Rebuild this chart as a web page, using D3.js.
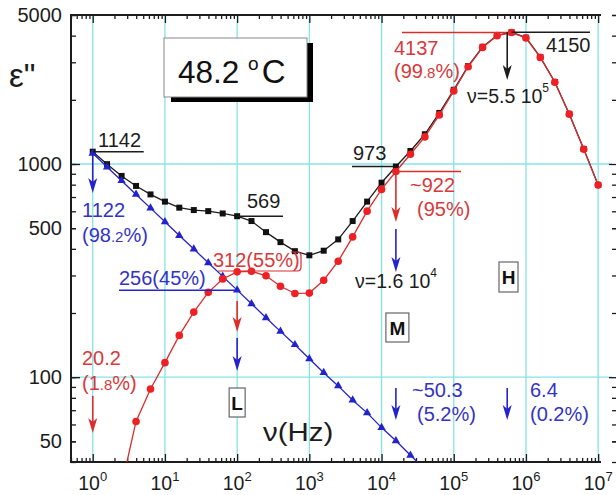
<!DOCTYPE html>
<html>
<head>
<meta charset="utf-8">
<script src="https://cdn.jsdelivr.net/npm/d3@7"></script>
<style>
  html, body { margin: 0; padding: 0; background: #fff; }
  svg { display: block; font-family: "Liberation Sans", Arial, Helvetica, sans-serif; }
</style>
</head>
<body>
<svg id="chart" width="616" height="495"></svg>
<script>
// Measurement frequencies (Hz), five points per decade
const freq = [1, 1.58, 2.51, 3.98, 6.31, 10, 15.8, 25.1, 39.8, 63.1,
              100, 158, 251, 398, 631, 1000, 1580, 2510, 3980, 6310,
              1e4, 1.58e4, 2.51e4, 3.98e4, 6.31e4, 1e5, 1.58e5, 2.51e5, 3.98e5, 6.31e5,
              1e6, 1.58e6, 2.51e6, 3.98e6, 6.31e6, 1e7];

// Measured loss spectrum ε'' (black squares)
const epsTotal = [1142, 998, 879, 789, 720, 666, 624, 608, 601, 586,
                  569, 540, 479, 430, 390, 373, 392, 443, 540, 666,
                  817, 973, 1151, 1379, 1735, 2230, 2880, 3545, 4015, 4150,
                  3915, 3170, 2425, 1718, 1177, 798];

// Low-frequency (L) contribution (blue triangles), from 1 Hz upward
const epsLow = [1122, 968, 835, 720, 621, 536, 462, 399, 344, 297,
                256, 221, 190, 164, 142, 122, 105, 91, 78, 68,
                58, 50.3, 43, 37];

// Relaxation (M + H) contribution (red circles), from 2.51 Hz upward
const epsRelax = [31, 62, 88, 117, 157, 202, 250, 289,
                  312, 314, 299, 267, 247, 248, 285, 350, 455, 601,
                  760, 922, 1111, 1340, 1700, 2203, 2858, 3524, 4000, 4137,
                  3900, 3162, 2417, 1713, 1173, 796];
const relaxFreq = freq.slice(freq.length - epsRelax.length);
const lowFreq = freq.slice(0, epsLow.length);

// Axis ticks and labels
const xDecades = [1, 10, 100, 1e3, 1e4, 1e5, 1e6, 1e7];
const yLabelTicks = [50, 100, 500, 1000, 5000];
const yGridValues = [100, 1000];

(function draw() {
const svg = d3.select("#chart");
const W = 616, H = 495;
const pL = 71, pR = 601, pT = 15, pB = 462;

const x = d3.scaleLog().domain([0.5, 1.05e7]).range([pL, 599.7]);
const y = d3.scaleLog().domain([40, 5000]).range([pB, pT]);

const ink = "#1c1c1c", red = "#dd2c2c", redText = "#d8393b",
      blue = "#2323cc", blueText = "#3333c6", cyan = "#86e3ea";

svg.append("rect").attr("width", W).attr("height", H).attr("fill", "#fff");

// minor tick values
const xMinor = [];
for (let e = -1; e <= 6; e++) for (let m = 2; m <= 9; m++) {
  const v = m * Math.pow(10, e);
  if (v >= 0.5 && v <= 1.05e7) xMinor.push(v);
}
const yMinor = [];
for (let e = 1; e <= 3; e++) for (let m = 1; m <= 9; m++) {
  const v = m * Math.pow(10, e);
  if (v >= 40 && v <= 5000 && v !== 100 && v !== 1000) yMinor.push(v);
}

// grid
const grid = svg.append("g");
grid.selectAll("line.vx").data(xDecades).join("line")
  .attr("x1", d => x(d)).attr("x2", d => x(d))
  .attr("y1", pT).attr("y2", pB)
  .attr("stroke", cyan).attr("stroke-width", 1.3);
grid.selectAll("line.hy").data(yGridValues).join("line")
  .attr("x1", pL).attr("x2", 612)
  .attr("y1", d => y(d)).attr("y2", d => y(d))
  .attr("stroke", cyan).attr("stroke-width", 1.3);

// axes (ticks pointing into the plot)
function styleAxis(g) {
  g.select(".domain").remove();
  g.selectAll(".tick line").attr("stroke", ink).attr("stroke-width", 1.3);
}
svg.append("g").attr("transform", `translate(0,${pB})`)
  .call(d3.axisBottom(x).tickValues(xDecades).tickSize(-8).tickFormat(""))
  .call(styleAxis);
svg.append("g").attr("transform", `translate(0,${pB})`)
  .call(d3.axisBottom(x).tickValues(xMinor).tickSize(-4).tickFormat(""))
  .call(styleAxis);
svg.append("g").attr("transform", `translate(0,${pT})`)
  .call(d3.axisTop(x).tickValues(xDecades).tickSize(-8).tickFormat(""))
  .call(styleAxis);
svg.append("g").attr("transform", `translate(0,${pT})`)
  .call(d3.axisTop(x).tickValues(xMinor).tickSize(-4).tickFormat(""))
  .call(styleAxis);

const yLeft = svg.append("g").attr("transform", `translate(${pL},0)`)
  .call(d3.axisLeft(y).tickValues(yLabelTicks).tickSize(-5).tickPadding(9)
        .tickFormat(d3.format("d")))
  .call(styleAxis);
yLeft.selectAll(".tick text").attr("font-size", 20).attr("fill", ink)
  .attr("font-family", "Liberation Sans, Arial, sans-serif");
svg.append("g").attr("transform", `translate(${pL},0)`)
  .call(d3.axisLeft(y).tickValues(yMinor).tickSize(-5).tickFormat(""))
  .call(styleAxis);
svg.append("g").attr("transform", `translate(${pL},0)`)
  .call(d3.axisLeft(y).tickValues(yGridValues).tickSize(-9).tickFormat(""))
  .call(styleAxis);
// right-hand tick marks
svg.append("g").attr("transform", "translate(616,0)")
  .call(d3.axisLeft(y).tickValues(yMinor.concat([50, 500, 5000])).tickSize(4).tickFormat(""))
  .call(styleAxis);
svg.append("g").attr("transform", "translate(616,0)")
  .call(d3.axisLeft(y).tickValues(yGridValues).tickSize(7).tickFormat(""))
  .call(styleAxis);

// frame lines
const frame = svg.append("g").attr("stroke", ink).attr("stroke-width", 2);
frame.append("line").attr("x1", pL).attr("x2", pL).attr("y1", pT - 1).attr("y2", pB + 1);
frame.append("line").attr("x1", pL).attr("x2", pR).attr("y1", pT).attr("y2", pT);
frame.append("line").attr("x1", pL).attr("x2", pR).attr("y1", pB).attr("y2", pB);

// x tick labels: 10^n
const xl = svg.append("g").attr("font-size", 19.5).attr("fill", ink).attr("text-anchor", "middle");
xDecades.forEach((d, i) => {
  const t = xl.append("text").attr("x", x(d)).attr("y", 490);
  t.append("tspan").text("10");
  t.append("tspan").attr("font-size", 13).attr("dy", -9).text(i);
});

// data curves
svg.append("clipPath").attr("id", "plotClip")
  .append("rect").attr("x", pL).attr("y", pT - 8).attr("width", pR - pL + 10).attr("height", pB - pT + 8);
const plot = svg.append("g").attr("clip-path", "url(#plotClip)");

const line = d3.line().x(d => x(d[0])).y(d => y(d[1]));
const totalPts = freq.map((f, i) => [f, epsTotal[i]]);
const lowPts = lowFreq.map((f, i) => [f, epsLow[i]]);
const relaxPts = relaxFreq.map((f, i) => [f, epsRelax[i]]);

plot.append("path").attr("d", line(totalPts)).attr("fill", "none")
  .attr("stroke", ink).attr("stroke-width", 1.3);
plot.selectAll("rect.sq").data(totalPts).join("rect")
  .attr("x", d => x(d[0]) - 3).attr("y", d => y(d[1]) - 3)
  .attr("width", 6).attr("height", 6).attr("fill", "#111");

plot.append("path").attr("d", line(lowPts)).attr("fill", "none")
  .attr("stroke", blue).attr("stroke-width", 1.3);
plot.selectAll("path.tri").data(lowPts).join("path")
  .attr("d", d3.symbol(d3.symbolTriangle, 30))
  .attr("transform", d => `translate(${x(d[0])},${y(d[1])})`)
  .attr("fill", blue);

plot.append("path").attr("d", line(relaxPts)).attr("fill", "none")
  .attr("stroke", red).attr("stroke-width", 1.3);
plot.selectAll("circle.rc").data(relaxPts).join("circle")
  .attr("cx", d => x(d[0])).attr("cy", d => y(d[1])).attr("r", 3.8)
  .attr("fill", "#ee2024");

// annotation helpers
const ann = svg.append("g");
function hline(x1, x2, yy, color) {
  ann.append("line").attr("x1", x1).attr("x2", x2).attr("y1", yy).attr("y2", yy)
    .attr("stroke", color).attr("stroke-width", 1.5);
}
function arrow(xx, y1, y2, color) {
  ann.append("line").attr("x1", xx).attr("x2", xx).attr("y1", y1).attr("y2", y2 - 8)
    .attr("stroke", color).attr("stroke-width", 1.6);
  ann.append("path")
    .attr("d", `M${xx},${y2} L${xx - 4.5},${y2 - 15} L${xx},${y2 - 11} L${xx + 4.5},${y2 - 15} Z`)
    .attr("fill", color);
}
function label(xx, yy, parts, color, size = 20) {
  const t = ann.append("text").attr("x", xx).attr("y", yy).attr("fill", color).attr("font-size", size);
  parts.forEach(p => {
    const s = t.append("tspan").text(p.t);
    if (p.size) s.attr("font-size", p.size);
    if (p.dy) s.attr("dy", p.dy);
    if (p.dx) s.attr("dx", p.dx);
  });
  return t;
}
function boxLabel(cx, y1, y2, w, txt) {
  ann.append("rect").attr("x", cx - w / 2).attr("y", y1).attr("width", w).attr("height", y2 - y1)
    .attr("fill", "#fff").attr("stroke", "#666").attr("stroke-width", 1.2);
  ann.append("text").attr("x", cx).attr("y", (y1 + y2) / 2 + 7).attr("text-anchor", "middle")
    .attr("font-size", 19).attr("font-weight", "bold").attr("fill", "#111").text(txt);
}

const fM = freq[21], fH = 5.5e5;

// 1 Hz
hline(x(freq[0]), x(freq[0]) + 51, y(epsTotal[0]), ink);
label(98, 147, [{t: "1142"}], ink);
arrow(x(freq[0]), y(epsTotal[0]) + 3, 193, blue);
label(82, 217, [{t: "1122"}], blueText);
label(82, 242, [{t: "(98"}, {t: ".2", size: 15}, {t: "%)"}], blueText);
label(82, 365, [{t: "20.2"}], redText);
label(82, 390, [{t: "(1"}, {t: ".8", size: 15}, {t: "%)"}], redText);
arrow(x(freq[0]), 396, 433, red);

// 100 Hz
hline(237, 283, y(epsTotal[10]), ink);
label(247, 208, [{t: "569"}], ink);
hline(119, x(freq[10]), y(epsLow[10]), blue);
label(119, 285, [{t: "256(45%)"}], blueText);
label(213, 267, [{t: "312(55%)"}], redText);
ann.append("path")
  .attr("d", "M218,271 L297,271 Q301,271 301,267 L301,256 Q301,252 297,252 L291,252")
  .attr("fill", "none").attr("stroke", red).attr("stroke-width", 1.2);
arrow(x(freq[10]), 301, 332, red);
arrow(x(freq[10]), 338, 371, blue);
boxLabel(x(freq[10]), 388, 417, 16, "L");

// 1.6e4 Hz
hline(352, x(fM), y(epsTotal[21]), ink);
label(353, 160, [{t: "973"}], ink);
hline(x(fM), 461, y(epsRelax[19]), red);
label(410, 192, [{t: "~922"}], redText);
label(417, 216, [{t: "(95%)"}], redText);
arrow(x(fM), y(epsRelax[19]), 222, red);
arrow(x(fM), 229, 272, blue);
label(355, 288, [{t: "ν=1.6"}, {t: " 10"}, {t: "4", size: 12, dy: -11}], ink, 19.5);
boxLabel(x(fM) + 1.5, 313, 342, 23, "M");
arrow(x(fM), 388, 420, blue);
label(412, 397, [{t: "~50.3"}], blueText);
label(417, 421, [{t: "(5.2%)"}], blueText);

// peak
hline(402, x(freq[29]), y(epsRelax[27]), red);
hline(x(freq[29]), 590, y(epsTotal[29]), ink);
label(394, 55, [{t: "4137"}], redText);
label(394, 78, [{t: "(99"}, {t: ".8", size: 15}, {t: "%)"}], redText);
label(546, 52, [{t: "4150"}], ink);
arrow(x(fH), y(epsTotal[29]), 80, ink);
label(467, 103, [{t: "ν=5.5"}, {t: " 10"}, {t: "5", size: 12, dy: -11}], ink, 19.5);
boxLabel(508.5, 262, 292, 19, "H");
arrow(x(fH), 388, 420, blue);
label(530, 397, [{t: "6.4"}], blueText);
label(530, 421, [{t: "(0.2%)"}], blueText);

// axis titles
svg.append("text").attr("transform", "translate(263,441) scale(1.18,1)")
  .attr("font-size", 25).attr("fill", ink).text("ν(Hz)");
svg.append("text").attr("x", 9).attr("y", 87).attr("font-size", 33).attr("fill", ink).text("ε\"");

// temperature box with drop shadow
svg.append("rect").attr("x", 171).attr("y", 43).attr("width", 142).attr("height", 59).attr("fill", "#000");
svg.append("rect").attr("x", 164).attr("y", 38).attr("width", 143).attr("height", 59)
  .attr("fill", "#fff").attr("stroke", "#888").attr("stroke-width", 1);
const tt = svg.append("text").attr("x", 178).attr("y", 83).attr("font-size", 31.5).attr("fill", "#111");
tt.append("tspan").text("48.2 ");
tt.append("tspan").attr("font-size", 19).attr("dy", -13).text("o");
tt.append("tspan").attr("dy", 13).attr("dx", 3).attr("font-size", 33).text("C");
})();
</script>
</body>
</html>
